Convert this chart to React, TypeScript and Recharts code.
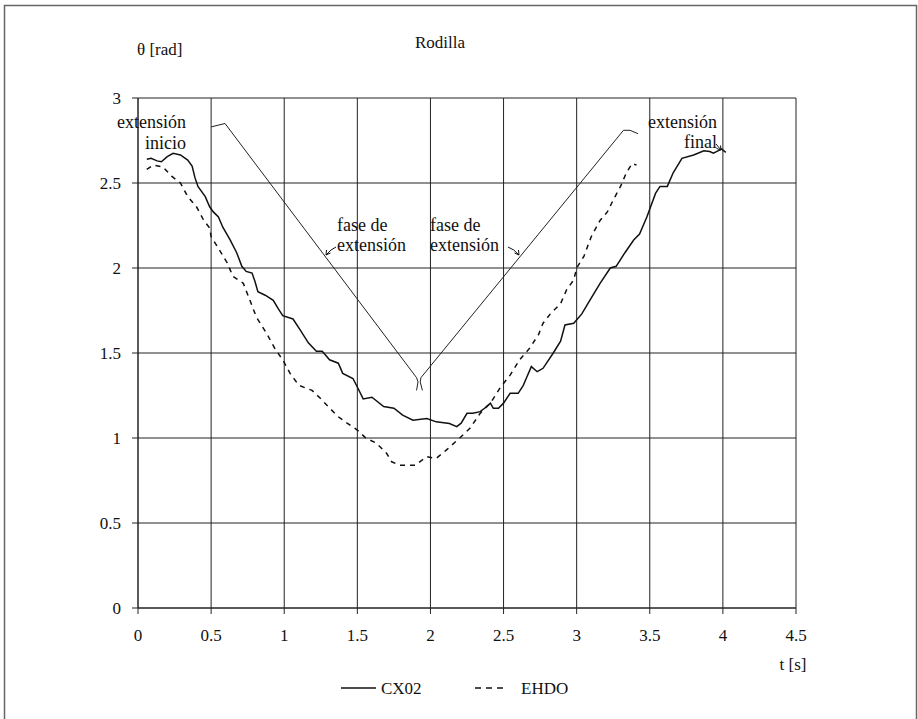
import React from 'react';
import { LineChart, Line, XAxis, YAxis, CartesianGrid } from 'recharts';

const xTicks = [0, 0.5, 1, 1.5, 2, 2.5, 3, 3.5, 4, 4.5];
const yTicks = [0, 0.5, 1, 1.5, 2, 2.5, 3];

const cx02Time = [0.06, 0.09, 0.13, 0.16, 0.2, 0.24, 0.29, 0.34, 0.37, 0.39, 0.41, 0.46, 0.49, 0.515, 0.55, 0.58, 0.63, 0.675, 0.71, 0.74, 0.78, 0.8, 0.82, 0.87, 0.925, 0.96, 0.99, 1.06, 1.11, 1.165, 1.22, 1.26, 1.31, 1.37, 1.4, 1.47, 1.5, 1.54, 1.6, 1.68, 1.75, 1.81, 1.88, 1.975, 2.04, 2.13, 2.18, 2.21, 2.25, 2.29, 2.34, 2.37, 2.41, 2.43, 2.465, 2.5, 2.545, 2.6, 2.635, 2.66, 2.69, 2.73, 2.77, 2.84, 2.89, 2.92, 2.98, 3.035, 3.09, 3.16, 3.23, 3.27, 3.33, 3.39, 3.43, 3.48, 3.54, 3.57, 3.62, 3.66, 3.72, 3.8, 3.87, 3.91, 3.935, 3.97, 3.99, 4.02];
const cx02Theta = [2.64, 2.645, 2.63, 2.625, 2.655, 2.675, 2.665, 2.635, 2.6, 2.53, 2.48, 2.42, 2.36, 2.33, 2.3, 2.24, 2.165, 2.09, 2.01, 1.98, 1.97, 1.92, 1.86, 1.84, 1.81, 1.76, 1.72, 1.7, 1.635, 1.56, 1.51, 1.51, 1.46, 1.44, 1.38, 1.35, 1.3, 1.23, 1.24, 1.185, 1.175, 1.135, 1.105, 1.115, 1.095, 1.085, 1.067, 1.087, 1.145, 1.145, 1.155, 1.175, 1.205, 1.175, 1.175, 1.205, 1.263, 1.263, 1.31, 1.36, 1.42, 1.39, 1.41, 1.5, 1.57, 1.665, 1.675, 1.73, 1.81, 1.91, 2.0, 2.01, 2.09, 2.165, 2.2, 2.3, 2.44, 2.48, 2.48, 2.56, 2.645, 2.665, 2.69, 2.685, 2.675, 2.69, 2.7, 2.68];

const ehdoTime = [0.06, 0.105, 0.17, 0.23, 0.29, 0.34, 0.4, 0.45, 0.49, 0.5, 0.55, 0.61, 0.65, 0.72, 0.77, 0.81, 0.88, 0.94, 0.99, 1.04, 1.1, 1.19, 1.245, 1.3, 1.37, 1.43, 1.5, 1.56, 1.63, 1.7, 1.735, 1.79, 1.895, 1.975, 2.04, 2.11, 2.2, 2.27, 2.34, 2.41, 2.48, 2.545, 2.61, 2.68, 2.74, 2.77, 2.82, 2.89, 2.93, 2.98, 3.0, 3.05, 3.1, 3.16, 3.21, 3.25, 3.3, 3.34, 3.38, 3.41];
const ehdoTheta = [2.58, 2.605, 2.595, 2.54, 2.5, 2.42, 2.36, 2.28, 2.235, 2.185, 2.115, 2.03, 1.95, 1.91, 1.8, 1.71, 1.615, 1.52, 1.46, 1.38, 1.31, 1.28, 1.235, 1.185, 1.125, 1.087, 1.047, 0.998, 0.97, 0.91, 0.86, 0.84, 0.84, 0.89, 0.88, 0.93, 1.0, 1.057, 1.145, 1.205, 1.3, 1.37, 1.46, 1.53, 1.61, 1.675, 1.73, 1.79, 1.87, 1.93, 2.0, 2.07, 2.185, 2.28, 2.33, 2.4, 2.48, 2.56, 2.615, 2.605];

const phaseDownTime = [0.5, 0.595, 1.905, 1.915, 1.905];
const phaseDownTheta = [2.83, 2.85, 1.355, 1.33, 1.28];
const phaseUpTime = [1.945, 1.93, 1.935, 3.32, 3.365, 3.42];
const phaseUpTheta = [1.28, 1.33, 1.355, 2.81, 2.81, 2.79];

const zip = (ts: number[], vs: number[]) => ts.map((t, i) => ({ t, v: vs[i] }));

const cx02Data = zip(cx02Time, cx02Theta);
const ehdoData = zip(ehdoTime, ehdoTheta);
const phaseDownData = zip(phaseDownTime, phaseDownTheta);
const phaseUpData = zip(phaseUpTime, phaseUpTheta);

const FONT = '"Liberation Serif", "DejaVu Serif", serif';
const W = 918;
const H = 719;

export default function App() {
  const textStyle = { fontFamily: FONT, fontSize: 18, fill: '#111' } as const;
  const smallStyle = { fontFamily: FONT, fontSize: 17, fill: '#111' } as const;
  return (
    <div style={{ position: 'absolute', left: 0, top: 0, width: W, height: H, background: '#fff' }}>
      <LineChart
        width={W}
        height={H}
        margin={{ top: 98, right: 122, bottom: 81, left: 98 }}
        style={{ position: 'absolute', left: 0, top: 0 }}
      >
        <CartesianGrid stroke="#222" strokeWidth={1} />
        <XAxis
          dataKey="t"
          type="number"
          domain={[0, 4.5]}
          ticks={xTicks}
          allowDataOverflow
          height={30}
          tickSize={6}
          tickMargin={15}
          stroke="#222"
          tick={{ fontFamily: FONT, fontSize: 17, fill: '#111' }}
          tickFormatter={(v: number) => String(v)}
        />
        <YAxis
          type="number"
          domain={[0, 3]}
          ticks={yTicks}
          width={40}
          tickSize={6}
          tickMargin={11}
          stroke="#222"
          tick={{ fontFamily: FONT, fontSize: 17, fill: '#111' }}
          tickFormatter={(v: number) => String(v)}
        />
        <Line data={phaseDownData} dataKey="v" type="linear" dot={false} stroke="#222" strokeWidth={1} isAnimationActive={false} legendType="none" />
        <Line data={phaseUpData} dataKey="v" type="linear" dot={false} stroke="#222" strokeWidth={1} isAnimationActive={false} legendType="none" />
        <Line data={ehdoData} dataKey="v" name="EHDO" type="linear" dot={false} stroke="#111" strokeWidth={1.5} strokeDasharray="5 5" isAnimationActive={false} />
        <Line data={cx02Data} dataKey="v" name="CX02" type="linear" dot={false} stroke="#111" strokeWidth={1.5} isAnimationActive={false} />
      </LineChart>
      <svg width={W} height={H} style={{ position: 'absolute', left: 0, top: 0, pointerEvents: 'none' }}>
        <path d={`M4.5 ${H} L4.5 5.5 L916.5 5.5 L916.5 ${H}`} fill="none" stroke="#666" strokeWidth={1.5} />
        <text x={440} y={48} textAnchor="middle" style={smallStyle}>Rodilla</text>
        <text x={137} y={55} style={smallStyle}>θ [rad]</text>
        <text x={793} y={670} textAnchor="middle" style={smallStyle}>t [s]</text>

        <text x={186} y={128} textAnchor="end" style={textStyle}>extensión</text>
        <text x={186} y={149} textAnchor="end" style={textStyle}>inicio</text>

        <text x={337} y={231} style={textStyle}>fase de</text>
        <text x={337} y={251} style={textStyle}>extensión</text>
        <path d="M336 247 Q331 249 326 255" fill="none" stroke="#111" strokeWidth={1} />
        <path d="M326 255 L326.5 250 M326 255 L330.5 253" fill="none" stroke="#111" strokeWidth={1} />

        <text x={430} y={231} style={textStyle}>fase de</text>
        <text x={430} y={251} style={textStyle}>extensión</text>
        <path d="M508 247 Q514 249 519 255" fill="none" stroke="#111" strokeWidth={1} />
        <path d="M519 255 L514.5 253 M519 255 L518.5 250" fill="none" stroke="#111" strokeWidth={1} />

        <text x={717} y={128} textAnchor="end" style={textStyle}>extensión</text>
        <text x={717} y={148} textAnchor="end" style={textStyle}>final</text>
        <path d="M716 144 L721 150" fill="none" stroke="#111" strokeWidth={1} />
        <path d="M721 150 L716.5 148.5 M721 150 L720.5 145.5" fill="none" stroke="#111" strokeWidth={1} />

        <line x1={341} y1={688} x2={376} y2={688} stroke="#111" strokeWidth={1.6} />
        <text x={381} y={694} style={smallStyle}>CX02</text>
        <line x1={475} y1={688} x2={507} y2={688} stroke="#111" strokeWidth={1.6} strokeDasharray="6 5" />
        <text x={521} y={694} style={smallStyle}>EHDO</text>
      </svg>
    </div>
  );
}
